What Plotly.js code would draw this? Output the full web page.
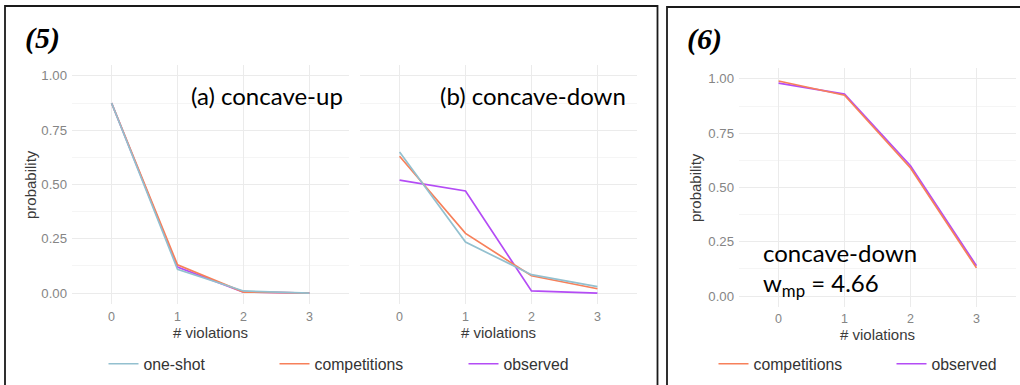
<!DOCTYPE html>
<html>
<head>
<meta charset="utf-8">
<script src="https://cdn.plot.ly/plotly-3.0.1.min.js"></script>
<style>html,body{margin:0;padding:0;background:#fff;}#chart{width:1020px;height:385px;}</style>
</head>
<body>
<div id="chart"></div>
<script>
// ---- data ----
var violations = [0, 1, 2, 3];
var xTickLabels = ['0', '1', '2', '3'];
var seriesNames = ['one-shot', 'competitions', 'observed'];
// (5a) concave-up
var a_oneshot = [0.875, 0.11, 0.01, 0.00];
var a_comp    = [0.875, 0.13, 0.005, 0.00];
var a_obs     = [0.875, 0.12, 0.005, 0.00];
// (5b) concave-down
var b_oneshot = [0.65, 0.235, 0.085, 0.03];
var b_comp    = [0.63, 0.275, 0.08, 0.02];
var b_obs     = [0.52, 0.47, 0.01, 0.00];
// (6) concave-down, w_mp = 4.66
var c_comp = [0.99, 0.925, 0.59, 0.13];
var c_obs  = [0.98, 0.93, 0.60, 0.14];

var colors = {'one-shot': '#93c0cf', 'competitions': '#f7805a', 'observed': '#b44cf5'};
var W = 1020, H = 385;
function px(x) { return x / W; }
function py(y) { return (H - y) / H; }

function tr(x, y, name, xa, ya, legend, show) {
  return {
    x: x, y: y, name: name, type: 'scatter', mode: 'lines',
    xaxis: xa, yaxis: ya,
    line: {color: colors[name], width: 1.7},
    legend: legend, showlegend: show, hoverinfo: 'skip'
  };
}

var data = [
  tr(violations, a_obs, 'observed', 'x', 'y', 'legend3', true),
  tr(violations, a_comp, 'competitions', 'x', 'y', 'legend2', true),
  tr(violations, a_oneshot, 'one-shot', 'x', 'y', 'legend', true),
  tr(violations, b_obs, 'observed', 'x2', 'y2', 'legend3', false),
  tr(violations, b_comp, 'competitions', 'x2', 'y2', 'legend2', false),
  tr(violations, b_oneshot, 'one-shot', 'x2', 'y2', 'legend', false),
  tr(violations, c_obs, 'observed', 'x3', 'y3', 'legend5', true),
  tr(violations, c_comp, 'competitions', 'x3', 'y3', 'legend4', true)
];

var tickFont = {family: 'Liberation Sans, Arial, sans-serif', size: 13.2, color: '#858585'};
var xTickFont = {family: 'Liberation Sans, Arial, sans-serif', size: 12.5, color: '#858585'};
var grid = '#ebebeb';

function xax(domain, anchor, standoff) {
  return {
    domain: domain, anchor: anchor, range: [-0.6, 3.6],
    tickmode: 'array', tickvals: violations, ticktext: xTickLabels,
    showgrid: true, gridcolor: grid, gridwidth: 1.2,
    zeroline: false, showline: false, ticks: '', ticklabelstandoff: standoff,
    tickfont: xTickFont, fixedrange: true
  };
}
function yax(domain, anchor, showLabels) {
  return {
    domain: domain, anchor: anchor, range: [-0.05, 1.05],
    tickmode: 'linear', tick0: 0, dtick: 0.25, tickformat: '.2f',
    showticklabels: showLabels,
    showgrid: true, gridcolor: grid, gridwidth: 1.2,
    minor: {dtick: 0.125, showgrid: true, gridcolor: '#f5f5f5', gridwidth: 1},
    zeroline: false, showline: false, ticks: '', ticklabelstandoff: 4,
    tickfont: tickFont, fixedrange: true
  };
}

function leg(xpix) {
  return {
    x: px(xpix), y: py(364), xanchor: 'left', yanchor: 'middle',
    orientation: 'h', bgcolor: 'rgba(0,0,0,0)', borderwidth: 0,
    font: {family: 'Liberation Sans, Arial, sans-serif', size: 15.8, color: '#333'},
    itemclick: false, itemdoubleclick: false
  };
}

var titleFont = {family: 'Liberation Sans, Arial, sans-serif', size: 15, color: '#3a3a3a'};
var bigFont = {family: 'Lato, sans-serif', size: 24, color: '#000'};
var numFont = {family: 'Liberation Serif, Times New Roman, serif', size: 30, color: '#000', weight: 'bold', style: 'italic'};

function ann(text, x, y, font, xanchor, angle) {
  return {text: text, x: px(x), y: py(y), xref: 'paper', yref: 'paper',
    xanchor: xanchor || 'left', yanchor: 'middle', showarrow: false,
    font: font, textangle: angle || 0};
}

var layout = {
  width: W, height: H, autosize: false,
  margin: {l: 0, r: 0, t: 0, b: 0},
  paper_bgcolor: '#fff', plot_bgcolor: '#fff',
  xaxis: xax([px(72), px(349)], 'y', 3),
  yaxis: yax([py(304), py(65)], 'x', true),
  xaxis2: xax([px(360), px(637)], 'y2', 3),
  yaxis2: yax([py(304), py(65)], 'x2', false),
  xaxis3: xax([px(739), px(1016)], 'y3', 2),
  yaxis3: yax([py(307), py(68)], 'x3', true),
  legend: leg(103.5),
  legend2: leg(274.5),
  legend3: leg(463.5),
  legend4: leg(713.5),
  legend5: leg(891.5),
  annotations: [
    ann('(5)', 23, 38.5, numFont),
    ann('(6)', 685, 39.5, numFont),
    ann('(a) concave-up', 189, 96, bigFont),
    ann('(b) concave-down', 438, 95.5, bigFont),
    ann('concave-down', 761, 252, bigFont),
    ann('w<sub>mp</sub> = 4.66', 761, 284, bigFont),
    ann('# violations', 210.5, 332.5, titleFont, 'center'),
    ann('# violations', 498.5, 332.5, titleFont, 'center'),
    ann('# violations', 877.5, 334.5, titleFont, 'center'),
    ann('probability', 30, 185, titleFont, 'center', -90),
    ann('probability', 695, 188, titleFont, 'center', -90)
  ],
  shapes: [
    {type: 'rect', xref: 'paper', yref: 'paper', x0: px(5), x1: px(657.5), y0: -0.2, y1: py(6),
     line: {color: '#1a1a1a', width: 1.8}, fillcolor: 'rgba(0,0,0,0)'},
    {type: 'rect', xref: 'paper', yref: 'paper', x0: px(667), x1: 1.2, y0: -0.2, y1: py(7),
     line: {color: '#1a1a1a', width: 1.8}, fillcolor: 'rgba(0,0,0,0)'}
  ]
};

Plotly.newPlot('chart', data, layout, {staticPlot: true, displayModeBar: false});
</script>
</body>
</html>
